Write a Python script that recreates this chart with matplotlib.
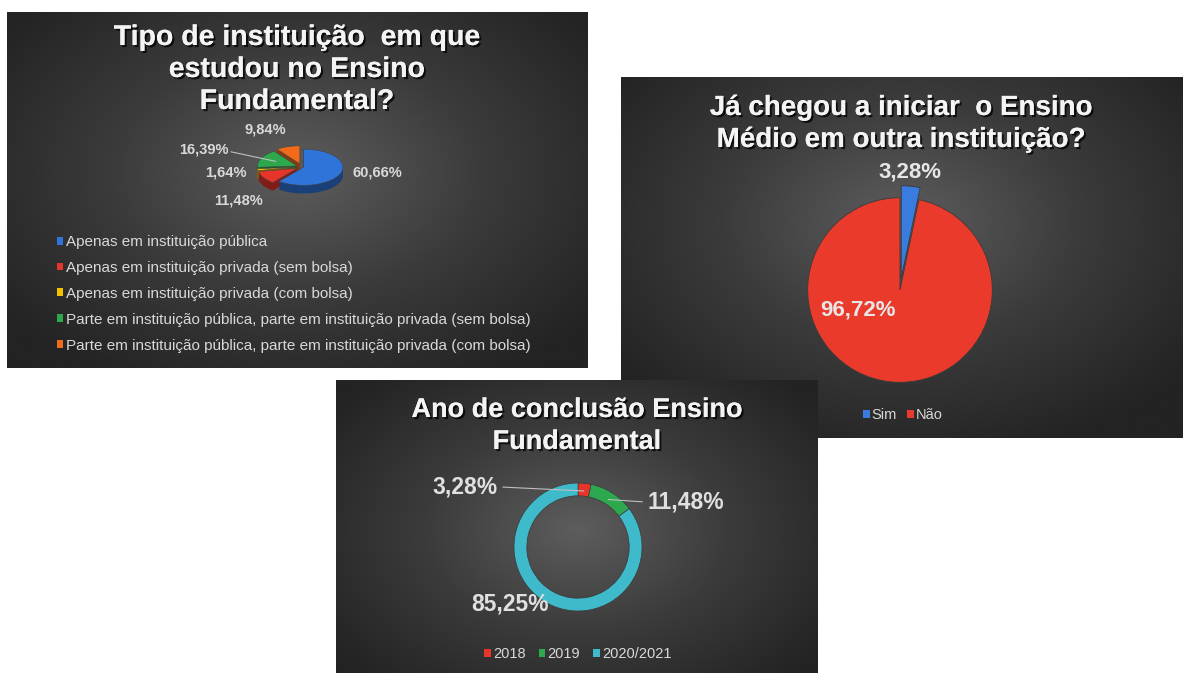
import numpy as np
import matplotlib
matplotlib.use("Agg")
import matplotlib.pyplot as plt
import matplotlib.patheffects as pe
from matplotlib.colors import LinearSegmentedColormap, to_rgb
from matplotlib.patches import Patch

W, H = 1196, 673

# --- dados ---
tipo_labels = [
    "Apenas em instituição pública",
    "Apenas em instituição privada (sem bolsa)",
    "Apenas em instituição privada (com bolsa)",
    "Parte em instituição pública, parte em instituição privada (sem bolsa)",
    "Parte em instituição pública, parte em instituição privada (com bolsa)",
]
tipo_values = [60.66, 11.48, 1.64, 16.39, 9.84]
tipo_colors = ["#2f74d8", "#e8352b", "#f2c200", "#2da84c", "#f26a1c"]

medio_labels = ["Sim", "Não"]
medio_values = [3.28, 96.72]
medio_colors = ["#3a7be0", "#ea3a2c"]

ano_labels = ["2018", "2019", "2020/2021"]
ano_values = [3.28, 11.48, 85.25]
ano_colors = ["#e8352b", "#2ea84f", "#3fbacb"]

TEXT_COLOR = "#d9d9d9"
TITLE_COLOR = "#f4f4f4"
plt.rcParams["font.family"] = ["Liberation Sans", "DejaVu Sans"]


def fx(x):
    return x / W


def fy(y):
    return 1 - y / H


def px_axes(fig, x0, y0, x1, y1):
    return fig.add_axes([fx(x0), fy(y1), (x1 - x0) / W, (y1 - y0) / H])


def pct(v):
    return f"{v:.2f}%".replace(".", ",")


def shade(color, k):
    r, g, b = to_rgb(color)
    return (r * k, g * k, b * k)


def panel_background(fig, x0, y0, x1, y1, cx=0.5, cy=0.45):
    ax = px_axes(fig, x0, y0, x1, y1)
    yy, xx = np.mgrid[0:1:200j, 0:1:300j]
    rr = np.sqrt(((xx - cx) / 0.75) ** 2 + ((yy - cy) / 0.8) ** 2)
    cmap = LinearSegmentedColormap.from_list("bg", ["#5d5d5d", "#3b3b3b", "#232323"])
    ax.imshow(rr, cmap=cmap, extent=(0, 1, 0, 1), origin="lower",
              aspect="auto", vmin=0, vmax=0.85)
    ax.set_xlim(0, 1)
    ax.set_ylim(0, 1)
    ax.axis("off")
    return ax


def title(fig, x, y, text, size=20):
    fig.text(fx(x), fy(y), text, ha="center", va="center", fontsize=size,
             fontweight="bold", color=TITLE_COLOR, linespacing=1.3,
             path_effects=[pe.withSimplePatchShadow(offset=(1.5, -1.5),
                                                    shadow_rgbFace="black", alpha=0.75),
                           pe.Normal()])


def mid_point(wedge, rfrac=1.0):
    ang = np.deg2rad((wedge.theta1 + wedge.theta2) / 2)
    cx, cy = wedge.center
    return cx + wedge.r * rfrac * np.cos(ang), cy + wedge.r * rfrac * np.sin(ang)


def main():
    fig = plt.figure(figsize=(W / 100, H / 100), dpi=100)
    fig.patch.set_facecolor("white")

    # ---------- painel 1: pizza 3D ----------
    panel_background(fig, 7, 12, 588, 368, cx=0.5, cy=0.55)
    title(fig, 297, 70, "Tipo de instituição  em que\nestudou no Ensino\nFundamental?", 20.5)

    ax1 = px_axes(fig, 235, 129, 369, 205)
    explode = [0.04, 0.14, 0.14, 0.14, 0.18]
    for d in np.linspace(0.45, 0.03, 12):
        ax1.pie(tipo_values, colors=[shade(c, 0.55) for c in tipo_colors],
                explode=explode, startangle=90, counterclock=False,
                center=(0, -d), wedgeprops=dict(linewidth=0))
    wedges1, _ = ax1.pie(tipo_values, colors=tipo_colors, explode=explode,
                         startangle=90, counterclock=False,
                         wedgeprops=dict(linewidth=0.4, edgecolor="#444444"))
    ax1.set_aspect("auto")
    ax1.set_xlim(-1.7, 1.7)
    ax1.set_ylim(-2.1, 2.1)

    label_pos1 = [(1.92, -0.28), (-1.6, -1.84), (-1.92, -0.28), (-2.5, 0.95), (-0.93, 2.05)]
    for i, (w, v) in enumerate(zip(wedges1, tipo_values)):
        arrow = None
        if i == 3:
            arrow = dict(arrowstyle="-", color="#bfbfbf", lw=0.8,
                         shrinkA=0, shrinkB=0, relpos=(1.0, 0.4))
        ax1.annotate(pct(v), xy=mid_point(w, 0.6), xytext=label_pos1[i],
                     ha="center", va="center", fontsize=10.5, fontweight="bold",
                     color=TEXT_COLOR, arrowprops=arrow, annotation_clip=False)

    handles1 = [Patch(facecolor=c) for c in tipo_colors]
    fig.legend(handles1, tipo_labels, loc="upper left",
               bbox_to_anchor=(fx(57), fy(235)), frameon=False,
               fontsize=11, labelcolor=TEXT_COLOR, handlelength=0.42,
               handleheight=0.42, handletextpad=0.15, labelspacing=0.78,
               borderpad=0, borderaxespad=0)

    # ---------- painel 2: pizza ----------
    panel_background(fig, 621, 77, 1183, 438, cx=0.5, cy=0.6)
    title(fig, 901, 124, "Já chegou a iniciar  o Ensino\nMédio em outra instituição?", 20)

    ax2 = px_axes(fig, 780, 170, 1020, 410)
    wedges2, _ = ax2.pie(medio_values, colors=medio_colors, explode=[0.13, 0],
                         startangle=90, counterclock=False,
                         wedgeprops=dict(linewidth=0.6, edgecolor="#3a3a3a"))
    ax2.set_aspect("equal")
    ax2.set_xlim(-1.3, 1.3)
    ax2.set_ylim(-1.3, 1.3)
    label_pos2 = [(0.11, 1.28), (-0.46, -0.22)]
    for w, v, p in zip(wedges2, medio_values, label_pos2):
        ax2.text(p[0], p[1], pct(v), ha="center", va="center", fontsize=16,
                 fontweight="bold", color="#e6e6e6")

    handles2 = [Patch(facecolor=c) for c in medio_colors]
    fig.legend(handles2, medio_labels, loc="center",
               bbox_to_anchor=(fx(903), fy(415)), ncol=2, frameon=False,
               fontsize=10.5, labelcolor=TEXT_COLOR, handlelength=0.45,
               handleheight=0.45, handletextpad=0.15, columnspacing=0.7,
               borderpad=0, borderaxespad=0)

    # ---------- painel 3: rosca ----------
    panel_background(fig, 336, 380, 818, 680, cx=0.5, cy=0.5)
    title(fig, 577, 426, "Ano de conclusão Ensino\nFundamental", 19.5)

    ax3 = px_axes(fig, 478, 447, 678, 647)
    wedges3, _ = ax3.pie(ano_values, colors=ano_colors, startangle=90,
                         counterclock=False, radius=1.0,
                         wedgeprops=dict(width=0.2, linewidth=0.5, edgecolor="#3a3a3a"))
    ax3.set_aspect("equal")
    ax3.set_xlim(-1.5625, 1.5625)
    ax3.set_ylim(-1.5625, 1.5625)

    label_pos3 = [(-1.77, 0.94), (1.69, 0.70), (-1.06, -0.89)]
    relpos3 = [(1.0, 0.5), (0.0, 0.5), None]
    for w, v, p, rp in zip(wedges3, ano_values, label_pos3, relpos3):
        arrow = None
        if rp is not None:
            arrow = dict(arrowstyle="-", color="#bfbfbf", lw=0.8,
                         shrinkA=2, shrinkB=0, relpos=rp)
        ax3.annotate(pct(v), xy=mid_point(w, 0.88), xytext=p,
                     ha="center", va="center", fontsize=16.5, fontweight="bold",
                     color="#e0e0e0", arrowprops=arrow, annotation_clip=False)

    handles3 = [Patch(facecolor=c) for c in ano_colors]
    fig.legend(handles3, ano_labels, loc="center",
               bbox_to_anchor=(fx(578), fy(654)), ncol=3, frameon=False,
               fontsize=10.5, labelcolor=TEXT_COLOR, handlelength=0.45,
               handleheight=0.45, handletextpad=0.15, columnspacing=0.9,
               borderpad=0, borderaxespad=0)

    fig.savefig("out.png", dpi=100, facecolor="white")
    plt.close(fig)


if __name__ == "__main__":
    main()
